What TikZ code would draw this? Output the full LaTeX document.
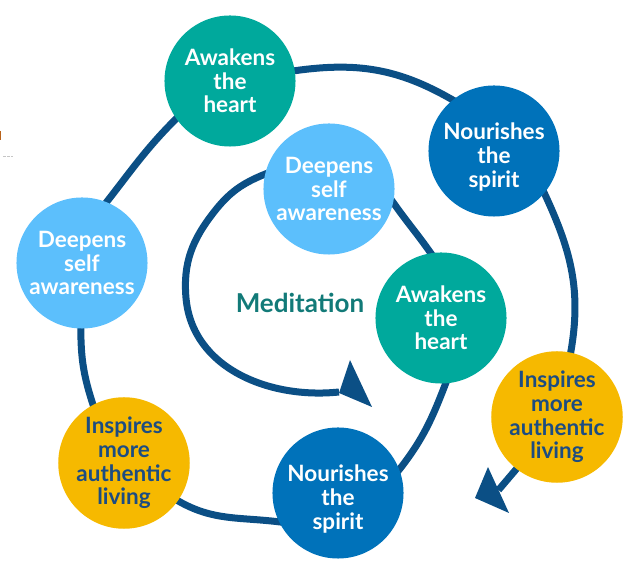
\documentclass[tikz,border=0pt]{standalone}
\usepackage{fontspec}
\setmainfont{Lato}
\usetikzlibrary{backgrounds}
\definecolor{cTeal}{HTML}{00A99C}
\definecolor{cBlue}{HTML}{0072BA}
\definecolor{cLight}{HTML}{5CBFFC}
\definecolor{cYellow}{HTML}{F6B900}
\definecolor{cLine}{HTML}{0B4F85}
\definecolor{cNavy}{HTML}{1C4C82}
\definecolor{cMed}{HTML}{127A78}
\definecolor{cOrange}{HTML}{B8621B}
\begin{document}
\begin{tikzpicture}[x=0.025cm,y=0.025cm,
  bubtext/.style={align=center,font=\bfseries\fontsize{16}{16.8}\selectfont},
  bub/.style={circle,minimum size=3.275cm,inner sep=0pt,bubtext},
  tealbub/.style={bub,fill=cTeal,text=white},
  bluebub/.style={bub,fill=cBlue,text=white},
  lightbub/.style={bub,fill=cLight,text=white},
  yellowbub/.style={bub,fill=cYellow,text=cNavy},
  spiral/.style={draw=cLine,line width=0.175cm,line join=round},
  tiphead/.style={fill=cLine}]
\useasboundingbox (0,0) rectangle (640,-582);
% bubbles
\node[tealbub]   (At) at (230,-81)  {Awakens\\the\\heart};
\node[bluebub,label={[bubtext,text=white,yshift=-0.15cm]center:Nourishes\\the\\spirit}] (Nt) at (494,-151) {};
\node[lightbub]  (Di) at (329,-189) {Deepens\\self\\awareness};
\node[lightbub]  (Dl) at (82,-263)  {Deepens\\self\\awareness};
\node[tealbub]   (Ai) at (441,-318) {Awakens\\the\\heart};
\node[yellowbub] (Ir) at (557,-417) {Inspires\\more\\authentic\\living};
\node[yellowbub] (Il) at (124,-463) {Inspires\\more\\authentic\\living};
\node[bluebub,label={[bubtext,text=white,yshift=-0.15cm]center:Nourishes\\the\\spirit}] (Nb) at (338,-493) {};
\node[font=\bfseries\fontsize{18.5}{20}\selectfont,text=cMed] (med) at (300,-303) {Meditation};
% path ends and waypoints
\coordinate (S) at (339,-392);
\coordinate (L) at (186,-298);
\coordinate (M) at (214,-212);
\coordinate (E) at (498.5,-490);
\begin{scope}[on background layer]
\draw[spiral] (S) to[out=186,in=275] (L)
  to[out=95,in=232] (M) to[out=52,in=202] (Di.167)
  to[out=22,in=125] (Di.-12)
  to[out=-55,in=125] (Ai.99) to[out=-55,in=69] (Ai.-86)
  to[out=-111,in=52] (Nb.21) to[out=232,in=-7] (Nb.206)
  to[out=173,in=-30] (Il.-35) to[out=150,in=-72] (Il.118)
  to[out=108,in=-90] (Dl.-91) to[out=90,in=-128] (Dl.68)
  to[out=52,in=-135] (At.215) to[out=45,in=-172] (At.9)
  to[out=8,in=150] (Nt.129) to[out=-30,in=115] (Nt.-40)
  to[out=-65,in=80] (Ir.78) to[out=-100,in=47] (Ir.232)
  -- (E);
\end{scope}
% arrow heads
\fill[tiphead] (350,-360) -- (372,-407) -- (339,-393) -- cycle;
\fill[tiphead] (475,-498) -- (488,-467) -- (509,-513) -- cycle;
% edge marks
\fill[cOrange] (0,-131) rectangle (1.5,-140);
\draw[gray!45,line width=0.6pt,dash pattern=on 2pt off 1pt] (3,-156) -- (13,-156);
\end{tikzpicture}
\end{document}
